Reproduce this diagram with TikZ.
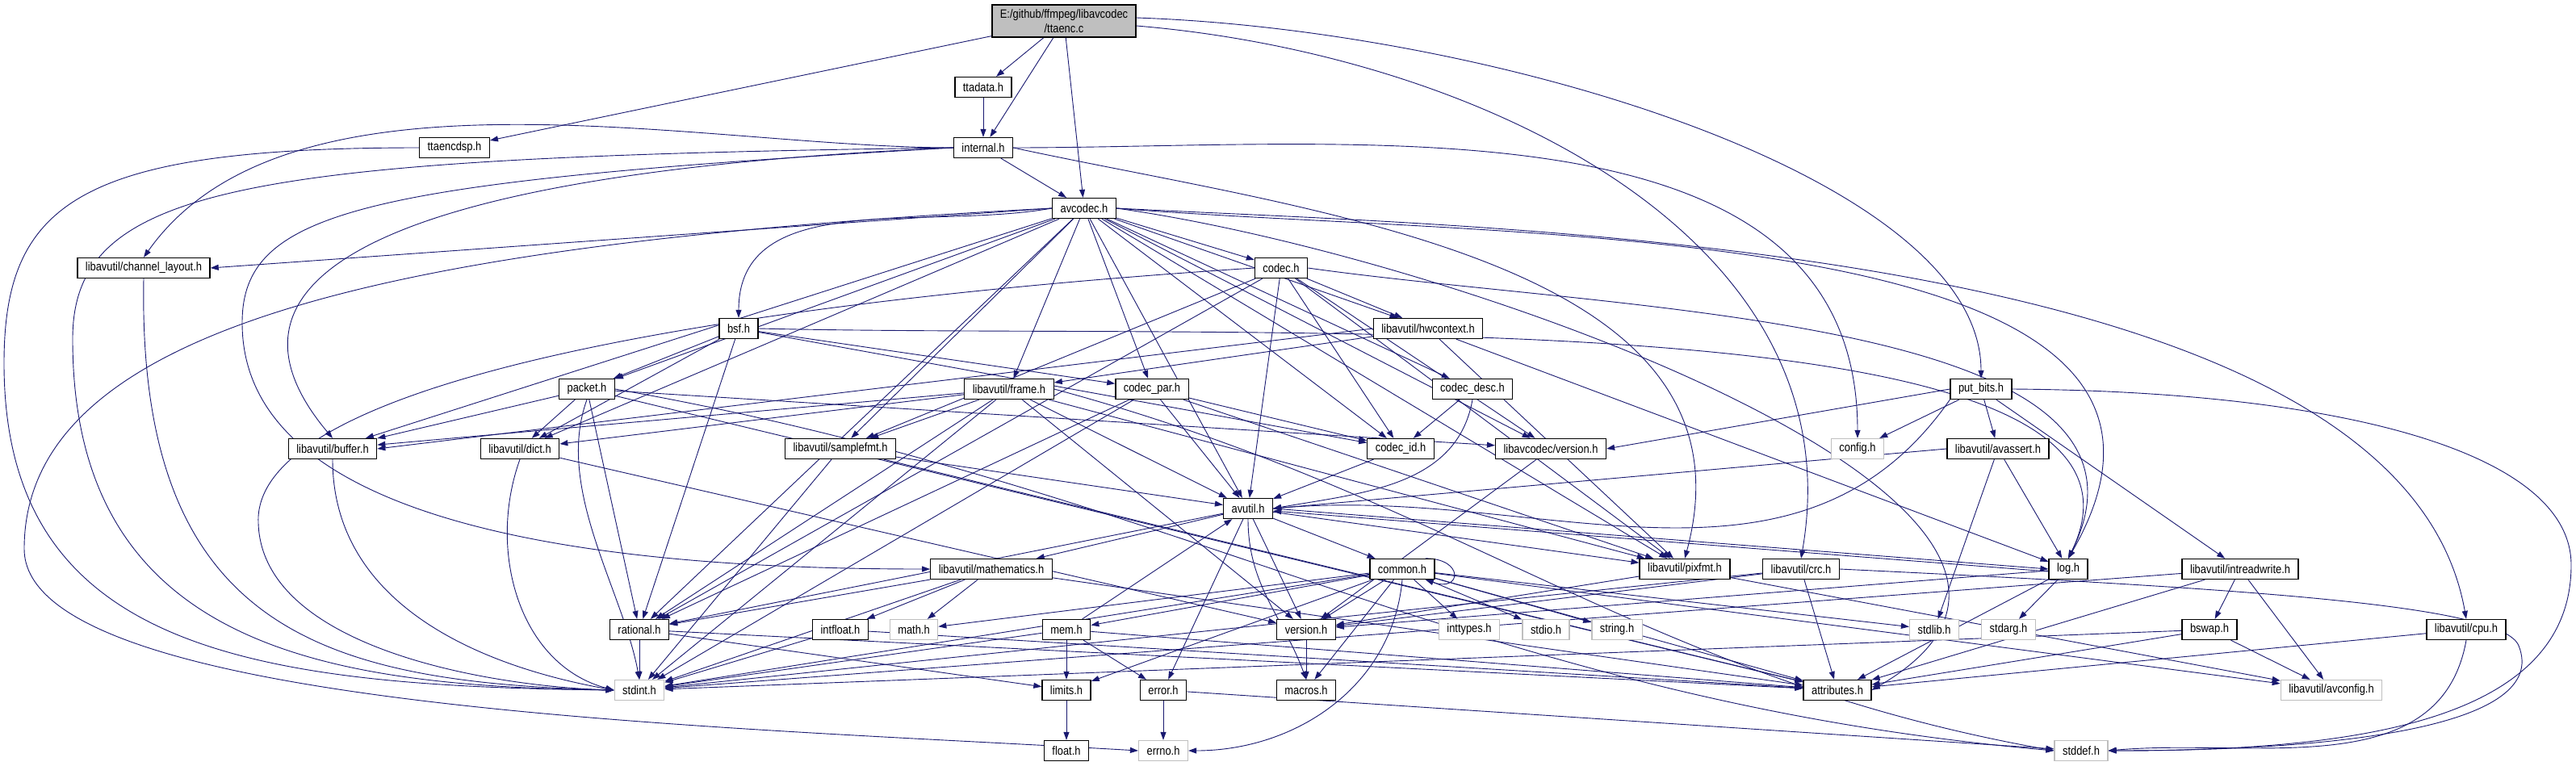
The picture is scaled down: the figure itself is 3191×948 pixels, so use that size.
\documentclass[tikz,border=0pt]{standalone}
\usepackage{fontspec}
\setmainfont{Liberation Sans}[FakeStretch=0.86]
\usetikzlibrary{arrows.meta,backgrounds}
\definecolor{edgeblue}{RGB}{25,25,112}
\definecolor{boxgray}{RGB}{191,191,191}

\begin{document}
\begin{tikzpicture}[x=1pt,y=1pt,
  hdr/.style={draw=black, line width=1.3pt, fill=white, minimum height=25pt,
    inner xsep=10pt, inner ysep=0pt, font=\fontsize{15}{17}\selectfont},
  syshdr/.style={hdr, draw=boxgray},
  roothdr/.style={hdr, fill=boxgray, minimum height=40pt, align=center,
    font=\fontsize{15}{18}\selectfont},
  dep/.style={draw=edgeblue, line width=0.9pt, -{Triangle[length=10pt,width=7pt]}}]
\useasboundingbox (0,0) rectangle (3191,-948);

% top of the graph
\node[roothdr] (root) at (1318,-26) {E:/github/ffmpeg/libavcodec\\/ttaenc.c};
\node[hdr] (ttadata) at (1218,-108) {ttadata.h};
\node[hdr] (internal) at (1218,-183) {internal.h};
\node[hdr] (ttaencdsp) at (563,-183) {ttaencdsp.h};
\node[hdr] (avcodec) at (1343,-258) {avcodec.h};
\node[hdr] (chlayout) at (178,-332) {libavutil/channel\_layout.h};
\node[hdr] (codec) at (1587,-332) {codec.h};
\node[hdr] (bsf) at (915,-407) {bsf.h};
\node[hdr] (hwctx) at (1769,-407) {libavutil/hwcontext.h};
% libavcodec headers
\node[hdr] (packet) at (727,-482) {packet.h};
\node[hdr] (frame) at (1250,-482) {libavutil/frame.h};
\node[hdr] (codecpar) at (1427,-482) {codec\_par.h};
\node[hdr] (codecdesc) at (1824,-482) {codec\_desc.h};
\node[hdr] (putbits) at (2454,-482) {put\_bits.h};
\node[hdr] (buffer) at (412,-556) {libavutil/buffer.h};
\node[hdr] (dict) at (644,-556) {libavutil/dict.h};
\node[hdr] (samplefmt) at (1041,-556) {libavutil/samplefmt.h};
\node[hdr] (codecid) at (1735,-556) {codec\_id.h};
\node[hdr] (lavcver) at (1921,-556) {libavcodec/version.h};
\node[syshdr] (config) at (2301,-556) {config.h};
\node[hdr] (avassert) at (2475,-556) {libavutil/avassert.h};
% libavutil headers
\node[hdr] (avutil) at (1546,-630) {avutil.h};
\node[hdr] (mathematics) at (1228,-705) {libavutil/mathematics.h};
\node[hdr] (common) at (1737,-705) {common.h};
\node[hdr] (pixfmt) at (2087,-705) {libavutil/pixfmt.h};
\node[hdr] (crc) at (2231,-705) {libavutil/crc.h};
\node[hdr] (log) at (2562,-705) {log.h};
\node[hdr] (intrw) at (2775,-705) {libavutil/intreadwrite.h};
\node[hdr] (rational) at (792,-780) {rational.h};
\node[hdr] (intfloat) at (1041,-780) {intfloat.h};
\node[syshdr] (math) at (1132,-780) {math.h};
\node[hdr] (mem) at (1321,-780) {mem.h};
\node[hdr] (version) at (1618,-780) {version.h};
\node[syshdr] (inttypes) at (1820,-780) {inttypes.h};
\node[syshdr] (stdio) at (1915,-780) {stdio.h};
\node[syshdr] (string) at (2003,-780) {string.h};
\node[syshdr] (stdlib) at (2396,-780) {stdlib.h};
\node[syshdr] (stdarg) at (2488,-780) {stdarg.h};
\node[hdr] (bswap) at (2737,-780) {bswap.h};
\node[hdr] (cpu) at (3055,-780) {libavutil/cpu.h};
% bottom rows
\node[syshdr] (stdint) at (792,-855) {stdint.h};
\node[hdr] (limits) at (1321,-855) {limits.h};
\node[hdr] (error) at (1441,-855) {error.h};
\node[hdr] (macros) at (1618,-855) {macros.h};
\node[hdr] (attributes) at (2276,-855) {attributes.h};
\node[syshdr] (avconfig) at (2888,-855) {libavutil/avconfig.h};
\node[hdr] (float) at (1321,-930) {float.h};
\node[syshdr] (errno) at (1441,-930) {errno.h};
\node[syshdr] (stddef) at (2578,-930) {stddef.h};

\begin{scope}[on background layer]
% ttaenc.c
\draw[dep] (root) -- (ttadata);
\draw[dep] (root) -- (internal);
\draw[dep] (root) -- (avcodec);
\draw[dep] (root) -- (ttaencdsp);
\draw[dep] ([yshift=4pt]root.east) .. controls +(440,-15) and +(0,250) .. (putbits.north);
\draw[dep] ([yshift=-6pt]root.east) .. controls +(420,-35) and +(70,400) .. (crc.north);
\draw[dep] (ttadata) -- (internal);
\draw[dep] (ttaencdsp.west) .. controls (100,-183) and (5,-250) .. (5,-450) .. controls (5,-800) and (300,-850) .. (stdint.west);
% internal.h
\draw[dep] (internal) -- (avcodec);
\draw[dep] (internal.west) .. controls +(-312,0) and +(180,255) .. (chlayout.north);
\draw[dep] (internal.west) .. controls (450,-215) and (250,-350) .. (buffer.north);
\draw[dep] (internal.west) .. controls (300,-195) and (90,-230) .. (90,-420) .. controls (90,-800) and (400,-850) .. (stdint.west);
\draw[dep] (internal.west) .. controls (450,-225) and (300,-260) .. (300,-400) .. controls (300,-640) and (700,-705) .. (mathematics.west);
\draw[dep] (internal.east) .. controls +(430,0) and +(0,430) .. (config.north);
\draw[dep] (internal.east) .. controls +(370,-80) and +(100,370) .. (pixfmt.north);
% avcodec.h
\draw[dep] (avcodec.west) -- (chlayout.east);
\draw[dep] (avcodec) -- (buffer);
\draw[dep] (avcodec) -- (dict);
\draw[dep] (avcodec) -- (packet);
\draw[dep] (avcodec.west) .. controls +(-158,-28) and +(0,161) .. (bsf.north);
\draw[dep] (avcodec) -- (samplefmt);
\draw[dep] (avcodec) -- (frame);
\draw[dep] (avcodec) -- (codecpar);
\draw[dep] (avcodec) -- (codec);
\draw[dep] (avcodec) -- (codecid);
\draw[dep] (avcodec) -- (codecdesc);
\draw[dep] (avcodec) -- (lavcver);
\draw[dep] (avcodec) -- (hwctx);
\draw[dep] (avcodec) -- (pixfmt);
\draw[dep] (avcodec) -- (avutil);
\draw[dep] (avcodec) -- (rational);
\draw[dep] (avcodec.east) .. controls +(490,-40) and +(245,425) .. (log.north);
\draw[dep] (avcodec.east) .. controls +(430,-60) and +(375,217) .. (attributes.east);
\draw[dep] (avcodec.east) .. controls +(480,-25) and +(-83,470) .. (cpu.north);
\draw[dep] (avcodec.west) .. controls (500,-300) and (30,-400) .. (30,-680) .. controls (30,-880) and (900,-900) .. (errno.west);
% codec.h
\draw[dep] (codec.west) .. controls (900,-375) and (330,-470) .. (320,-640) .. controls (315,-800) and (600,-850) .. (stdint.west);
\draw[dep] (codec) -- (avutil);
\draw[dep] (codec) -- (hwctx);
\draw[dep] (codec.east) .. controls +(391,-55) and +(150,300) .. (log.north);
\draw[dep] (codec) -- (pixfmt);
\draw[dep] (codec) -- (rational);
\draw[dep] (codec) -- (samplefmt);
\draw[dep] (codec) -- (codecid);
\draw[dep] (codec) -- (lavcver);
% bsf.h
\draw[dep] (bsf) -- (dict);
\draw[dep] (bsf.east) .. controls +(645,-15) and +(160,330) .. (log.north);
\draw[dep] (bsf) -- (rational);
\draw[dep] (bsf) -- (codecid);
\draw[dep] (bsf) -- (codecpar);
\draw[dep] (bsf) -- (packet);
% hwcontext.h
\draw[dep] (hwctx.west) -- (buffer.east);
\draw[dep] (hwctx) -- (frame);
\draw[dep] (hwctx) -- (log);
\draw[dep] (hwctx) -- (pixfmt);
% packet.h
\draw[dep] (packet.east) .. controls +(708,-125) and +(-716,63) .. (stddef.west);
\draw[dep] (packet.south) .. controls +(-40,-110) and +(-20,110) .. (stdint.north);
\draw[dep] (packet) -- (attributes);
\draw[dep] (packet) -- (buffer);
\draw[dep] (packet) -- (dict);
\draw[dep] (packet) -- (rational);
\draw[dep] (packet) -- (lavcver);
% frame.h
\draw[dep] (frame.east) .. controls +(498,-134) and +(-508,90) .. (stddef.west);
\draw[dep] (frame) -- (stdint);
\draw[dep] (frame) -- (avutil);
\draw[dep] (frame) -- (buffer);
\draw[dep] (frame) -- (dict);
\draw[dep] (frame) -- (rational);
\draw[dep] (frame) -- (samplefmt);
\draw[dep] (frame) -- (pixfmt);
\draw[dep] (frame) -- (version);
% codec_par.h, codec_desc.h
\draw[dep] (codecpar) -- (stdint);
\draw[dep] (codecpar) -- (avutil);
\draw[dep] (codecpar) -- (rational);
\draw[dep] (codecpar) -- (pixfmt);
\draw[dep] (codecpar) -- (codecid);
\draw[dep] (codecdesc.south) .. controls +(-19,-108) and +(108,19) .. (avutil.east);
\draw[dep] (codecdesc) -- (codecid);
% put_bits.h
\draw[dep] (putbits.west) -- (lavcver.east);
\draw[dep] (putbits) -- (config);
\draw[dep] (putbits.south west) .. controls +(-190,-272) and +(330,29) .. (avutil.east);
\draw[dep] (putbits) -- (avassert);
\draw[dep] (putbits) -- (intrw);
\draw[dep] (putbits.east) .. controls (2900,-485) and (3185,-560) .. (3185,-700) .. controls (3185,-900) and (2900,-930) .. (stddef.east);
% second rank
\draw[dep] (buffer.south) .. controls +(0,-176) and +(-173,31) .. (stdint.west);
\draw[dep] (dict.south) .. controls +(-41,-114) and +(-117,31) .. (stdint.west);
\draw[dep] (dict) -- (version);
\draw[dep] (samplefmt) -- (stdint);
\draw[dep] (samplefmt) -- (avutil);
\draw[dep] (samplefmt) -- (attributes);
\draw[dep] (codecid) -- (avutil);
\draw[dep] (lavcver) -- (version);
\draw[dep] (avassert) -- (stdlib);
\draw[dep] (avassert.west) -- (avutil.east);
\draw[dep] (avassert) -- (log);
\draw[dep] (chlayout.south) .. controls (170,-780) and (400,-845) .. (stdint.west);
% avutil.h
\draw[dep] (avutil) -- (common);
\draw[dep] (avutil) -- (error);
\draw[dep] (avutil) -- (rational);
\draw[dep] (avutil) -- (version);
\draw[dep] (avutil.south) .. controls +(0,-83) and +(-28,77) .. (macros.north);
\draw[dep] (avutil) -- (mathematics);
\draw[dep] (avutil.east) -- (log.west);
\draw[dep] ([yshift=-3pt]log.west) -- ([yshift=-3pt]avutil.east);
\draw[dep] (avutil) -- (pixfmt);
% mathematics.h
\draw[dep] (mathematics) -- (stdint);
\draw[dep] (mathematics) -- (math);
\draw[dep] (mathematics) -- (attributes);
\draw[dep] (mathematics) -- (rational);
\draw[dep] (mathematics) -- (intfloat);
% common.h
\draw[dep] (common.south) .. controls +(-12,-132) and +(133,0) .. (errno.east);
\draw[dep] (common) -- (inttypes);
\draw[dep] (common) -- (limits);
\draw[dep] (common) -- (math);
\draw[dep] (common) -- (stdint);
\draw[dep] (common) -- (stdio);
\draw[dep] (common) -- (stdlib);
\draw[dep] (common) -- (string);
\draw[dep] (common) -- (attributes);
\draw[dep] (common) -- (macros);
\draw[dep] (common) -- (version);
\draw[dep] (common) -- (avconfig);
\draw[dep] (common) -- (mem);
\draw[dep] ([xshift=-12pt]common.north east) .. controls +(48,0) and +(45,-16) .. ([xshift=-12pt]common.south east);
% pixfmt.h, crc.h, log.h
\draw[dep] (pixfmt) -- (avconfig);
\draw[dep] (pixfmt) -- (version);
\draw[dep] (crc) -- (stdint);
\draw[dep] (crc.east) .. controls (2800,-730) and (3100,-750) .. (3120,-800) .. controls (3160,-900) and (2900,-930) .. (stddef.east);
\draw[dep] (crc) -- (attributes);
\draw[dep] (crc) -- (version);
\draw[dep] (log) -- (stdarg);
\draw[dep] (log) -- (attributes);
\draw[dep] (log) -- (version);
% intreadwrite.h and below
\draw[dep] (intrw) -- (stdint);
\draw[dep] (intrw) -- (avconfig);
\draw[dep] (intrw) -- (attributes);
\draw[dep] (intrw) -- (bswap);
\draw[dep] (rational) -- (stdint);
\draw[dep] (rational) -- (limits);
\draw[dep] (rational) -- (attributes);
\draw[dep] (intfloat) -- (stdint);
\draw[dep] (intfloat) -- (attributes);
\draw[dep] (mem) -- (limits);
\draw[dep] (mem) -- (stdint);
\draw[dep] (mem) -- (attributes);
\draw[dep] (mem) -- (error);
\draw[dep] (mem) -- (avutil);
\draw[dep] (version) -- (macros);
\draw[dep] (bswap) -- (stdint);
\draw[dep] (bswap) -- (avconfig);
\draw[dep] (bswap) -- (attributes);
\draw[dep] (cpu.south) .. controls +(-32,-179) and +(181,16) .. (stddef.east);
\draw[dep] (cpu) -- (attributes);
\draw[dep] (limits) -- (float);
\draw[dep] (error) -- (errno);
\draw[dep] (error) -- (stddef);
\end{scope}
\end{tikzpicture}
\end{document}
